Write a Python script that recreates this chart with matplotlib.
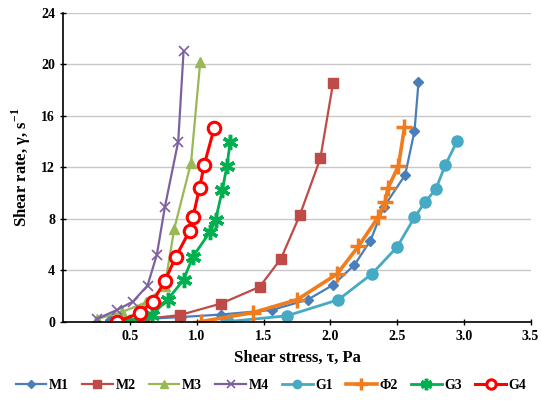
import numpy as np
import matplotlib.pyplot as plt

plt.rcParams['font.family'] = ['Liberation Serif', 'DejaVu Serif']
plt.rcParams['font.weight'] = 'bold'
plt.rcParams['mathtext.fontset'] = 'custom'
plt.rcParams['mathtext.rm'] = 'Liberation Serif:bold'
plt.rcParams['mathtext.bf'] = 'Liberation Serif:bold'

# shear stress (Pa) / shear rate (1/s)
m1_x = [0.35, 0.60, 0.88, 1.18, 1.56, 1.83, 2.02, 2.18, 2.30, 2.40, 2.56, 2.63, 2.66]
m1_y = [0.1, 0.2, 0.35, 0.55, 0.9, 1.7, 2.85, 4.4, 6.3, 8.9, 11.4, 14.8, 18.6]
m2_x = [0.60, 0.87, 1.18, 1.47, 1.63, 1.77, 1.925, 2.02]
m2_y = [0.2, 0.5, 1.4, 2.7, 4.9, 8.25, 12.7, 18.55]
m3_x = [0.25, 0.44, 0.62, 0.76, 0.83, 0.956, 1.025]
m3_y = [0.2, 0.75, 1.5, 2.8, 7.2, 12.35, 20.2]
m4_x = [0.25, 0.40, 0.52, 0.63, 0.70, 0.76, 0.86, 0.90]
m4_y = [0.2, 0.9, 1.55, 2.8, 5.2, 8.9, 14.0, 21.0]
g1_x = [1.23, 1.675, 2.06, 2.31, 2.50, 2.63, 2.71, 2.79, 2.86, 2.95]
g1_y = [0.0, 0.45, 1.7, 3.7, 5.8, 8.1, 9.3, 10.3, 12.15, 14.05]
f2_x = [1.03, 1.42, 1.75, 2.05, 2.21, 2.36, 2.41, 2.43, 2.51, 2.555]
f2_y = [0.0, 0.7, 1.7, 3.7, 5.85, 8.15, 9.3, 10.35, 12.1, 15.1]
g3_x = [0.50, 0.66, 0.78, 0.90, 0.97, 1.10, 1.14, 1.19, 1.225, 1.25]
g3_y = [0.0, 0.5, 1.7, 3.25, 5.05, 7.0, 7.9, 10.2, 12.1, 14.0]
g4_x = [0.405, 0.57, 0.67, 0.76, 0.84, 0.945, 0.97, 1.02, 1.055, 1.13]
g4_y = [0.0, 0.65, 1.55, 3.15, 5.0, 7.05, 8.1, 10.4, 12.2, 15.05]

fig = plt.figure(figsize=(5.42, 4.03), dpi=100)
ax = fig.add_axes([0.117, 0.202, 0.862, 0.766])

ax.plot(m1_x, m1_y, color='#4A7EBB', lw=1.6, marker='D', ms=5, label='M1')
ax.plot(m2_x, m2_y, color='#BE4B48', lw=1.6, marker='s', ms=7, label='M2')
ax.plot(m3_x, m3_y, color='#98B954', lw=1.6, marker='^', ms=7, label='M3')
ax.plot(m4_x, m4_y, color='#7D60A0', lw=1.6, marker='x', ms=7, mew=1.2, label='M4')
ax.plot(g1_x, g1_y, color='#46AAC5', lw=2, marker='o', ms=8, label='G1')
ax.plot(f2_x, f2_y, color='#F07C1E', lw=2.6, marker='+', ms=12, mew=2.5, label='Φ2')
ax.plot(g3_x, g3_y, color='#00B050', lw=2, marker=(6, 2, 0), ms=11, mew=2.5, label='G3')
ax.plot(g4_x, g4_y, color='#FF0000', lw=2.2, marker='o', ms=9, mfc='white', mew=2.2, label='G4')

ax.set_xlim(0, 3.5)
ax.set_ylim(0, 24)
ax.set_xticks([0.5, 1.0, 1.5, 2.0, 2.5, 3.0, 3.5])
ax.set_xticklabels(['0.5', '1.0', '1.5', '2.0', '2.5', '3.0', '3.5'])
ax.set_yticks(range(0, 25, 4))
ax.tick_params(axis='both', direction='inout', length=5, width=1, labelsize=10)
ax.yaxis.grid(True, color='#C8C8C8', lw=1)
ax.set_axisbelow(True)
for s in ['top', 'right']:
    ax.spines[s].set_visible(False)
ax.spines['left'].set_linewidth(1.2)
ax.spines['bottom'].set_linewidth(1.2)

ax.set_xlabel('Shear stress, τ, Pa', fontsize=12, fontweight='bold', labelpad=5)
ax.set_ylabel(r'Shear rate, γ, s$^{-1}$', fontsize=12, fontweight='bold', labelpad=6)

fig.legend(loc='center', bbox_to_anchor=(0.5, 0.043), ncol=8, frameon=False,
           fontsize=10, handlelength=2.2, columnspacing=0.95, handletextpad=0.2,
           markerscale=0.75, borderaxespad=0)

fig.savefig('out.png', dpi=100)
